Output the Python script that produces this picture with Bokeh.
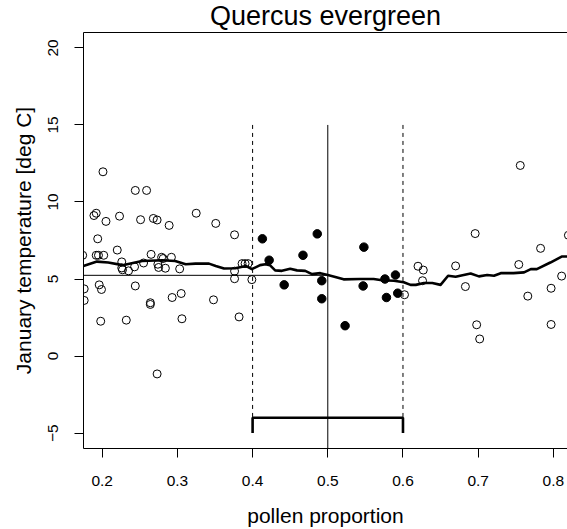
from bokeh.plotting import figure
from bokeh.models import Range1d, LinearAxis, FixedTicker
from bokeh.embed import file_html
from bokeh.resources import INLINE

# ---- data ----
open_x = [0.201, 0.244, 0.259, 0.189, 0.192, 0.205, 0.223, 0.251, 0.268, 0.273,
          0.289, 0.325, 0.351, 0.376, 0.194, 0.220, 0.174, 0.192, 0.195, 0.202,
          0.226, 0.226, 0.227, 0.235, 0.243, 0.255, 0.265, 0.274, 0.275, 0.279,
          0.281, 0.284, 0.292, 0.303, 0.376, 0.376, 0.386, 0.390, 0.394, 0.399,
          0.196, 0.199, 0.176, 0.176, 0.244, 0.293, 0.305, 0.348, 0.264, 0.264,
          0.198, 0.232, 0.306, 0.382, 0.273,
          0.602, 0.620, 0.627, 0.626, 0.670, 0.683, 0.696, 0.698, 0.702, 0.756,
          0.754, 0.766, 0.783, 0.797, 0.797, 0.811, 0.820]
open_y = [11.96, 10.75, 10.75, 9.12, 9.27, 8.74, 9.08, 8.85, 8.93, 8.83,
          8.48, 9.27, 8.61, 7.87, 7.61, 6.88, 6.54, 6.54, 6.54, 6.54,
          6.11, 5.72, 5.60, 5.53, 5.79, 6.04, 6.60, 5.96, 5.75, 6.41,
          6.33, 5.70, 6.41, 5.66, 5.51, 5.02, 6.00, 6.00, 6.00, 4.96,
          4.62, 4.32, 4.36, 3.61, 4.55, 3.80, 4.06, 3.65, 3.46, 3.35,
          2.26, 2.33, 2.42, 2.54, -1.16,
          3.98, 5.83, 5.58, 4.89, 5.85, 4.51, 7.95, 2.03, 1.11, 12.37,
          5.94, 3.89, 6.99, 4.40, 2.05, 5.19, 7.84]

filled_x = [0.413, 0.486, 0.422, 0.467, 0.548, 0.442, 0.492, 0.492, 0.523, 0.547,
            0.576, 0.590, 0.578, 0.593]
filled_y = [7.61, 7.93, 6.22, 6.54, 7.07, 4.62, 4.89, 3.72, 1.97, 4.55,
            5.00, 5.26, 3.80, 4.08]

smooth_x = [0.172, 0.193, 0.208, 0.227, 0.253, 0.280, 0.297, 0.311, 0.324, 0.342,
            0.351, 0.362, 0.377, 0.391, 0.399, 0.410, 0.417, 0.423, 0.430, 0.439,
            0.450, 0.459, 0.470, 0.479, 0.490, 0.500, 0.510, 0.521, 0.543, 0.561,
            0.572, 0.588, 0.601, 0.610, 0.617, 0.628, 0.639, 0.650, 0.660, 0.670,
            0.690, 0.701, 0.712, 0.721, 0.730, 0.747, 0.761, 0.770, 0.778, 0.796,
            0.811, 0.822]
smooth_y = [5.80, 6.13, 6.07, 5.90, 6.17, 6.22, 6.17, 5.96, 6.00, 6.00,
            5.85, 5.68, 5.70, 5.85, 5.64, 5.90, 5.96, 5.90, 5.56, 5.53,
            5.66, 5.56, 5.53, 5.32, 5.38, 5.26, 5.13, 4.98, 5.00, 5.00,
            4.92, 4.89, 4.79, 4.62, 4.62, 4.74, 4.74, 4.62, 5.21, 5.15,
            5.36, 5.17, 5.26, 5.21, 5.38, 5.38, 5.43, 5.64, 5.64, 6.07,
            6.46, 6.46]

x_ticks = [0.2, 0.3, 0.4, 0.5, 0.6, 0.7, 0.8]
y_ticks = [-5, 0, 5, 10, 15, 20]
y_tick_labels = {-5: "\u22125", 0: "0", 5: "5", 10: "10", 15: "15", 20: "20"}

target = 0.5          # analysed pollen proportion
window = [0.4, 0.6]   # window around it
fitted = 5.24         # fitted value at target
line_top = 15
bracket_y = -4
bracket_end = -5

FONT = "Liberation Sans"

p = figure(width=567, height=529, output_backend="svg", toolbar_location=None,
           x_range=Range1d(0.1751, 0.8188), y_range=Range1d(-6, 21),
           x_axis_location=None, y_axis_location=None,
           min_border_left=83, min_border_top=32, min_border_bottom=79,
           min_border_right=0, title="Quercus evergreen")
p.outline_line_color = None
p.background_fill_color = "white"
p.border_fill_color = "white"
p.grid.visible = False

p.title.align = "center"
p.title.text_font = FONT
p.title.text_font_size = "27px"
p.title.text_font_style = "normal"
p.title.text_color = "black"
p.title.standoff = 0
p.title.vertical_align = "top"
p.title.text_baseline = "top"

def style_axis(ax):
    ax.axis_line_color = "black"
    ax.axis_line_width = 1
    ax.major_tick_line_color = "black"
    ax.major_tick_line_width = 1
    ax.major_tick_out = 9
    ax.major_tick_in = 0
    ax.minor_tick_line_color = None
    ax.major_label_text_font = FONT
    ax.major_label_text_font_size = "15.5px"
    ax.major_label_text_color = "black"
    ax.axis_label_text_font = FONT
    ax.axis_label_text_font_size = "21px"
    ax.axis_label_text_font_style = "normal"
    ax.axis_label_text_color = "black"

xa = LinearAxis(ticker=FixedTicker(ticks=x_ticks), axis_label="pollen proportion")
style_axis(xa)
xa.major_label_standoff = 18
xa.axis_label_standoff = 15
p.add_layout(xa, "below")

ya = LinearAxis(ticker=FixedTicker(ticks=y_ticks), axis_label="January temperature [deg C]")
style_axis(ya)
ya.major_label_overrides = y_tick_labels
ya.major_label_orientation = "vertical"
ya.major_label_standoff = 16
ya.axis_label_standoff = 11
p.add_layout(ya, "left")

top = LinearAxis(ticker=FixedTicker(ticks=[]))
top.axis_line_color = "black"
top.axis_line_width = 1
top.major_tick_line_color = None
top.minor_tick_line_color = None
top.major_tick_out = 0
top.major_tick_in = 0
top.major_label_standoff = 0
top.major_label_text_font_size = "0px"
p.add_layout(top, "above")

# reference lines
p.segment(x0=[0.1], y0=[fitted], x1=[target], y1=[fitted], line_color="black", line_width=1)
p.segment(x0=[target], y0=[line_top], x1=[target], y1=[-6], line_color="black", line_width=1)
p.segment(x0=window, y0=[line_top, line_top], x1=window, y1=[bracket_y, bracket_y],
          line_color="black", line_width=1, line_dash="4 4")
# bracket
p.line(x=[window[0], window[0], window[1], window[1]],
       y=[bracket_end, bracket_y, bracket_y, bracket_end],
       line_color="black", line_width=2.6)

# smoother
p.line(x=smooth_x, y=smooth_y, line_color="black", line_width=2.6, line_join="round")

# points
p.scatter(x=open_x, y=open_y, marker="circle", size=8, fill_color=None,
          line_color="black", line_width=1)
p.scatter(x=filled_x, y=filled_y, marker="circle", size=8.5, fill_color="black",
          line_color="black", line_width=1)

open("out.html", "w").write(file_html(p, INLINE))
